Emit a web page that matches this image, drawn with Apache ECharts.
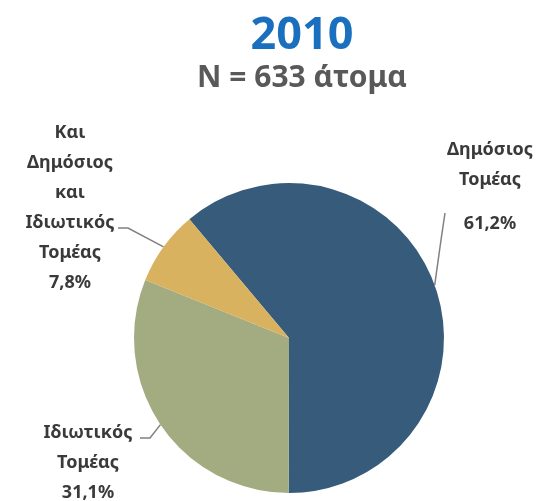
<!DOCTYPE html>
<html>
<head>
<meta charset="utf-8">
<script src="https://cdn.jsdelivr.net/npm/echarts@6/dist/echarts.min.js"></script>
<style>
  html, body { margin: 0; padding: 0; background: #fff; }
  #chart { width: 539px; height: 501px; }
</style>
</head>
<body>
<div id="chart"></div>
<script>
// data
var categories = ['Δημόσιος\nΤομέας', 'Ιδιωτικός\nΤομέας', 'Και\nΔημόσιος\nκαι\nΙδιωτικός\nΤομέας'];
var shares = [61.2, 31.1, 7.8];
var titleText = '2010';
var subtitleText = 'N = 633 άτομα';

var colors = ['#365B7B', '#A3AB80', '#D9B25F'];
// label block centres and the bends of their leader lines
var labelPos = [[490, 184], [88, 463], [70, 208]];
var lineBends = [
  [[441, 240], [445, 213]],
  [[150, 438], [140, 438]],
  [[128, 228], [118, 228]]
];

var chart = echarts.init(document.getElementById('chart'));

var option = {
  animation: false,
  title: [
    {
      text: titleText,
      left: 297, top: 9, textAlign: 'center',
      textStyle: { fontFamily: 'Noto Sans', fontWeight: 'bold', fontSize: 45, color: '#1A70BE' }
    },
    {
      text: subtitleText,
      left: 297, top: 58, textAlign: 'center',
      textStyle: { fontFamily: 'Noto Sans', fontWeight: 'bold', fontSize: 30, color: '#595959' }
    }
  ],
  series: [{
    type: 'pie',
    center: [289, 338],
    radius: 155,
    startAngle: 130,
    clockwise: true,
    itemStyle: { borderWidth: 0 },
    label: {
      show: true,
      position: 'outside',
      overflow: 'none',
      fontFamily: 'Noto Sans',
      fontWeight: 'bold',
      fontSize: 18,
      lineHeight: 30,
      color: '#3A3A3A',
      align: 'center',
      formatter: function (p) {
        var pct = p.value.toFixed(1).replace('.', ',') + '%';
        return p.name + '\n' + (p.dataIndex === 0 ? '{gap|' + pct + '}' : pct);
      },
      rich: {
        gap: { fontFamily: 'Noto Sans', fontWeight: 'bold', fontSize: 18, color: '#3A3A3A', lineHeight: 38, verticalAlign: 'bottom' }
      }
    },
    labelLine: {
      show: true,
      length: 10,
      length2: 10,
      lineStyle: { color: '#808080', width: 1.5 }
    },
    labelLayout: function (p) {
      var pos = labelPos[p.dataIndex];
      var pts = [p.labelLinePoints[0]].concat(lineBends[p.dataIndex]);
      return { x: pos[0], y: pos[1], align: 'center', verticalAlign: 'middle', labelLinePoints: pts };
    },
    data: categories.map(function (c, i) {
      return { name: c, value: shares[i], itemStyle: { color: colors[i] } };
    })
  }]
};

chart.setOption(option);
</script>
</body>
</html>
